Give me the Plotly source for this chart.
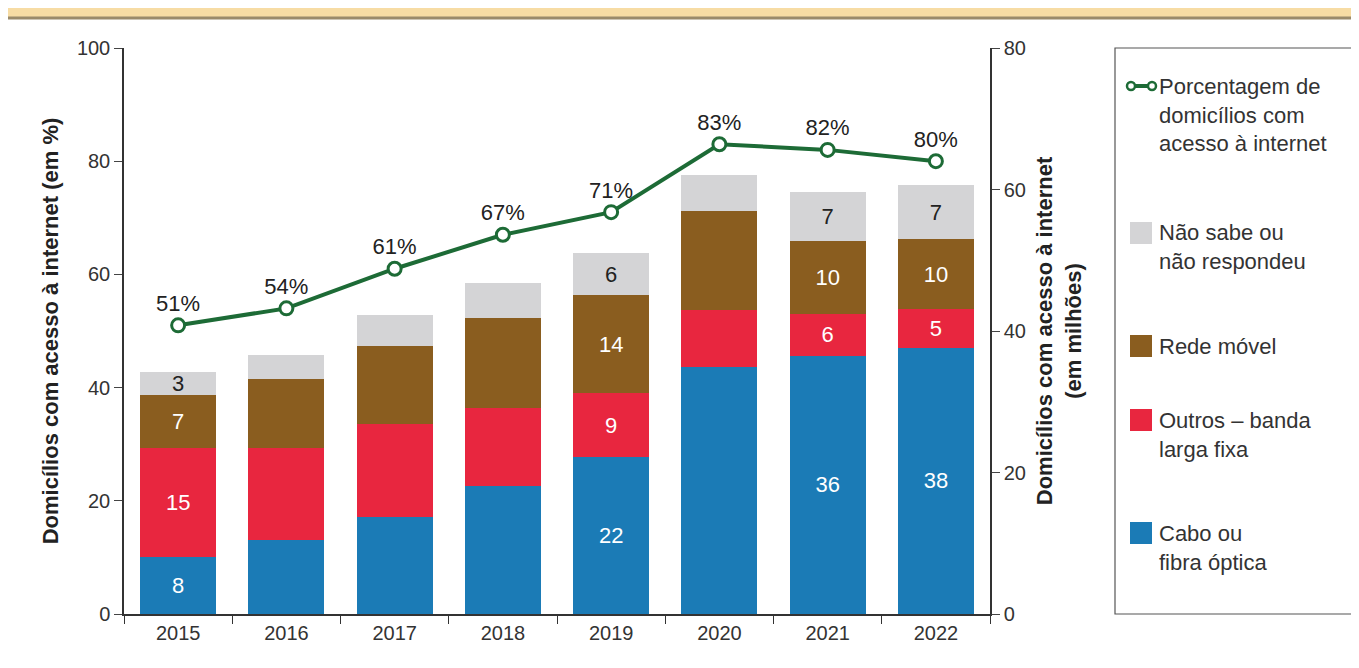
import plotly.graph_objects as go

years = ["2015","2016","2017","2018","2019","2020","2021","2022"]
cabo   = [8.1, 10.5, 13.7, 18.1, 22.2, 34.9, 36.5, 37.6]
outros = [15.3, 13.0, 13.2, 11.0, 9.0, 8.1, 5.9, 5.5]
movel  = [7.6, 9.7, 11.0, 12.7, 13.9, 14.0, 10.3, 9.9]
nsabe  = [3.2, 3.4, 4.4, 5.0, 5.9, 5.0, 6.9, 7.6]
pct    = [51, 54, 61, 67, 71, 83, 82, 80]
lab_cabo   = ["8","","","","22","","36","38"]
lab_outros = ["15","","","","9","","6","5"]
lab_movel  = ["7","","","","14","","10","10"]
lab_nsabe  = ["3","","","","6","","7","7"]

C_BLUE, C_RED, C_BROWN, C_GRAY, C_GREEN = "#1b7bb6", "#e8263f", "#8a5d1f", "#d4d4d6", "#1d6b36"
FONT = "Liberation Sans Narrow, Arial Narrow, Liberation Sans"

fig = go.Figure()
def bar(vals, labs, color, tcolor):
    fig.add_trace(go.Bar(x=years, y=vals, text=labs, textposition="inside", insidetextanchor="middle",
                         textangle=0, constraintext="none",
                         textfont=dict(color=tcolor, size=22, family=FONT), marker=dict(color=color, line=dict(width=0)),
                         yaxis="y2", showlegend=False, hoverinfo="skip"))
bar(cabo, lab_cabo, C_BLUE, "white")
bar(outros, lab_outros, C_RED, "white")
bar(movel, lab_movel, C_BROWN, "white")
bar(nsabe, lab_nsabe, C_GRAY, "#222")

fig.add_trace(go.Scatter(x=years, y=pct, mode="lines+markers+text", text=[f"{p}%" for p in pct],
                         textposition="top center", textfont=dict(size=22, color="#222", family=FONT),
                         line=dict(color=C_GREEN, width=4),
                         marker=dict(size=13, color="white", line=dict(color=C_GREEN, width=3)),
                         yaxis="y", showlegend=False, cliponaxis=False))

tickfont = dict(size=20, color="#333", family=FONT)
fig.update_layout(
    width=1359, height=668, margin=dict(l=116, r=377, t=40, b=62),
    paper_bgcolor="white", plot_bgcolor="white", barmode="stack", bargap=0.3,
    xaxis=dict(type="category", tickson="boundaries", ticks="outside", ticklen=8, tickcolor="#333",
               showline=True, linecolor="#333", linewidth=1.5, tickfont=tickfont, showgrid=False),
    yaxis=dict(range=[0, 100], dtick=20, ticks="outside", ticklen=8, showline=True, linecolor="#333",
               linewidth=1.5, showgrid=False, zeroline=False, tickfont=tickfont,
               title=dict(text="<b>Domicílios com acesso à internet (em %)</b>", font=dict(size=22, color="#222", family="Liberation Sans"), standoff=12)),
    yaxis2=dict(range=[0, 80], dtick=20, overlaying="y", side="right", ticks="outside", ticklen=8,
                showline=True, linecolor="#333", linewidth=1.5, showgrid=False, zeroline=False, tickfont=tickfont,
                title=dict(text="<b>Domicílios com acesso à internet<br>(em milhões)</b>", font=dict(size=22, color="#222", family="Liberation Sans"), standoff=12)),
)

def px(x): return (x - 122) / 866
def py(y): return (614 - y) / 566

shapes = [
    dict(type="rect", xref="paper", yref="paper", x0=px(-10), x1=px(1370), y0=py(18), y1=py(-20),
         fillcolor="#f7dca4", line=dict(width=0), layer="below"),
    dict(type="line", xref="paper", yref="paper", x0=px(-10), x1=px(1370), y0=py(18), y1=py(18),
         line=dict(color="#9a8a6a", width=3)),
    dict(type="rect", xref="paper", yref="paper", x0=px(1113), x1=px(1355), y0=py(614), y1=py(48),
         line=dict(color="#555", width=1.2)),
    dict(type="line", xref="paper", yref="paper", x0=px(1126), x1=px(1152), y0=py(86), y1=py(86),
         line=dict(color=C_GREEN, width=4)),
]
for cx in [1129, 1150]:
    shapes.append(dict(type="circle", xref="paper", yref="paper", x0=px(cx - 4), x1=px(cx + 4),
                       y0=py(90), y1=py(82), fillcolor="white", line=dict(color=C_GREEN, width=2.5)))
for c, yc in [(C_GRAY, 233), (C_BROWN, 346), (C_RED, 420), (C_BLUE, 533)]:
    shapes.append(dict(type="rect", xref="paper", yref="paper", x0=px(1128), x1=px(1150),
                       y0=py(yc + 11), y1=py(yc - 11), fillcolor=c, line=dict(width=0)))
fig.update_layout(shapes=shapes)

legtexts = [("Porcentagem de<br>domicílios com<br>acesso à internet", 72),
            ("Não sabe ou<br>não respondeu", 218), ("Rede móvel", 332),
            ("Outros – banda<br>larga fixa", 406), ("Cabo ou<br>fibra óptica", 519)]
for t, top in legtexts:
    fig.add_annotation(xref="paper", yref="paper", x=px(1155), y=py(top), text=t, showarrow=False,
                       xanchor="left", yanchor="top", align="left",
                       font=dict(size=22, color="#333", family=FONT))

fig.write_html("out.html")
